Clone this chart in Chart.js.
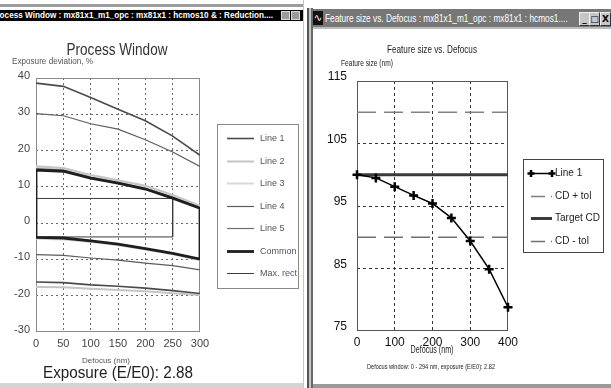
<!DOCTYPE html>
<html>
<head>
<meta charset="utf-8">
<script src="https://cdn.jsdelivr.net/npm/chart.js@4.4.1/dist/chart.umd.min.js"></script>
<style>
body { margin: 0; width: 611px; height: 388px; position: relative; overflow: hidden; background: #fff; font-family: 'Liberation Sans', Arial, sans-serif; }
#lwin { position: absolute; left: 0; top: 0; width: 303px; height: 388px; background: #fff; border-right: 1px solid #f0b4b4; overflow: hidden; }
#lstrip { position: absolute; left: 0; top: 4px; width: 303px; height: 3px; background: #9c9c9c; }
#lbar { position: absolute; left: 0; top: 10px; width: 303px; height: 11px; background: #000; color: #fff; font: bold 9px 'Liberation Sans', sans-serif; line-height: 11px; white-space: nowrap; overflow: hidden; }
#lbar span { position: absolute; left: -9px; top: 0; transform-origin: 0 50%; }
.lbtn { position: absolute; top: 1px; width: 7px; height: 7px; background: #9a9a9a; border: 1px solid #d8d8d8; }
#lbottom { position: absolute; left: 0; top: 383px; width: 303px; height: 5px; background: #d4d4d4; }
#pw { position: absolute; left: 0; top: 22px; }

#rb1 { position: absolute; left: 307px; top: 8px; width: 2px; height: 380px; background: #555; }
#rb2 { position: absolute; left: 309px; top: 8px; width: 2px; height: 380px; background: #c8c8c8; }
#rb3 { position: absolute; left: 311px; top: 8px; width: 2px; height: 380px; background: #6a6a6a; }
#rbar { position: absolute; left: 313px; top: 9px; width: 298px; height: 18px; background: #777; color: #fff; font: 11px 'Liberation Sans', sans-serif; line-height: 18px; white-space: nowrap; overflow: hidden; }
#ricon { position: absolute; left: 0; top: 2px; width: 10px; height: 14px; background: #111; color: #fff; font: 10px 'DejaVu Sans', sans-serif; line-height: 14px; text-align: center; }
#rtitle { position: absolute; left: 12px; top: 0; transform-origin: 0 50%; }
.rbtn { position: absolute; top: 3px; width: 9px; height: 12px; background: #c6c6c6; border: 1px solid #eee; border-right-color: #333; border-bottom-color: #333; color: #000; font: bold 9px 'DejaVu Sans', sans-serif; line-height: 12px; text-align: center; }
#rline { position: absolute; left: 313px; top: 27px; width: 298px; height: 2px; background: #bcbcbc; }
#rbottom { position: absolute; left: 313px; top: 384px; width: 298px; height: 4px; background: #9a9a9a; }
#fs { position: absolute; left: 314px; top: 31px; }
</style>
</head>
<body>
<div id="lwin">
  <div id="lstrip"></div>
  <div id="lbar"><span id="ltitle">Process Window : mx81x1_m1_opc : mx81x1 : hcmos10 &amp; : Reduction....</span>
    <div class="lbtn" style="left:281px"></div><div class="lbtn" style="left:291px"></div></div>
  <canvas id="pw" width="303" height="361"></canvas>
  <div id="lbottom"></div>
</div>
<div id="rb1"></div><div id="rb2"></div><div id="rb3"></div>
<div id="rbar"><div id="ricon">∿</div><div id="rtitle">Feature size vs. Defocus : mx81x1_m1_opc : mx81x1 : hcmos1....</div>
  <div class="rbtn" style="left:266px">_</div><div class="rbtn" style="left:276px">□</div><div class="rbtn" style="left:287px">X</div></div>
<div id="rline"></div>
<canvas id="fs" width="297" height="354"></canvas>
<div id="rbottom"></div>

<script>
// ---- Process Window data (exposure deviation %, vs defocus nm) ----
const pwDefocus = [0, 50, 100, 150, 200, 250, 300];
const line1Upper = [38.6, 37.7, 34.6, 31.4, 28.2, 24.0, 18.7];
const line1Lower = [-16.2, -16.4, -17.0, -17.4, -17.9, -18.6, -19.4];
const line2Upper = [15.7, 15.2, 13.3, 11.8, 10.3, 7.8, 4.8];
const line2Lower = [-17.6, -17.7, -18.1, -18.4, -18.8, -19.3, -19.8];
const line3Upper = [15.3, 14.8, 12.9, 11.5, 9.9, 7.4, 4.5];
const line3Lower = [-4.3, -4.5, -5.2, -6.1, -7.3, -8.6, -10.2];
const line4Upper = [30.2, 29.6, 27.4, 25.9, 23.0, 19.6, 15.6];
const line4Lower = [-8.7, -8.9, -9.6, -10.2, -11.0, -11.7, -12.9];
const line5Upper = [15.0, 14.6, 12.6, 11.2, 9.6, 7.1, 4.3];
const line5Lower = [-3.9, -4.1, -4.9, -5.8, -7.0, -8.3, -9.9];
const commonUpper = [14.6, 14.3, 12.4, 11.0, 9.4, 6.9, 4.1];
const commonLower = [-3.9, -4.1, -4.9, -5.8, -7.0, -8.3, -9.9];
const maxRectDefocus = [0, 250];
const maxRectExposure = [-3.8, 6.8];

// ---- Feature size vs defocus data ----
const fsDefocus = [0, 50, 100, 150, 200, 250, 300, 350, 400];
const fsLine1 = [100.0, 99.5, 98.1, 96.7, 95.4, 93.1, 89.4, 84.9, 78.8];
const fsRange = [0, 400];
const targetCD = 100;
const cdTol = 10;

const NARROW = "'Liberation Sans Narrow', 'Liberation Sans', sans-serif";
const SANS = "'Liberation Sans', Arial, sans-serif";

// squeeze the window captions to the width they have in the screenshot
function fitWidth(el, w) {
    el.style.transform = 'scaleX(' + (w / el.offsetWidth) + ')';
}
fitWidth(document.getElementById('ltitle'), 282);
fitWidth(document.getElementById('rtitle'), 243);

function pts(xs, ys) {
    return xs.map((x, i) => ({ x: x, y: ys[i] }));
}

// upper and lower curve of one line, with a gap between them
function band(upper, lower) {
    return pts(pwDefocus, upper).concat([{ x: 300, y: null }], pts(pwDefocus, lower));
}

function commonOutline() {
    const top = pts(pwDefocus, commonUpper);
    const bottom = pts(pwDefocus, commonLower).reverse();
    return top.concat(bottom, [top[0]]);
}

function rectOutline() {
    const [x0, x1] = maxRectDefocus;
    const [y0, y1] = maxRectExposure;
    return [{ x: x0, y: y1 }, { x: x1, y: y1 }, { x: x1, y: y0 }, { x: x0, y: y0 }, { x: x0, y: y1 }];
}

// frame around the plot area
const plotFrame = {
    id: 'plotFrame',
    beforeDatasetsDraw(chart) {
        const { left, top, right, bottom } = chart.chartArea;
        const ctx = chart.ctx;
        ctx.save();
        ctx.strokeStyle = chart.config.options.frameColor || '#777';
        ctx.lineWidth = 1;
        ctx.strokeRect(left + 0.5, top + 0.5, right - left - 1, bottom - top - 1);
        ctx.restore();
    }
};

// free text; w = width the text has in the reference, squeezed to fit
function textPlugin(items) {
    return {
        id: 'texts',
        afterDraw(chart) {
            const ctx = chart.ctx;
            items.forEach(t => {
                ctx.save();
                ctx.font = t.font;
                ctx.fillStyle = t.color || '#333';
                ctx.textBaseline = 'alphabetic';
                ctx.textAlign = 'left';
                const mw = ctx.measureText(t.text).width;
                const sx = t.w ? t.w / mw : 1;
                let x0 = t.x;
                if (t.align === 'center') x0 = t.x - mw * sx / 2;
                ctx.translate(x0, t.y);
                ctx.scale(sx, 1);
                ctx.fillText(t.text, 0, 0);
                ctx.restore();
            });
        }
    };
}

function legendPlugin(o) {
    return {
        id: 'boxLegend',
        afterDraw(chart) {
            const ctx = chart.ctx;
            ctx.save();
            ctx.strokeStyle = o.frame;
            ctx.lineWidth = 1;
            ctx.strokeRect(o.left + 0.5, o.top + 0.5, o.width, o.height);
            chart.data.datasets.forEach((ds, i) => {
                const y = Math.round(o.firstRow + i * o.rowStep) + 0.5;
                ctx.beginPath();
                ctx.strokeStyle = ds.borderColor;
                ctx.lineWidth = ds.borderWidth;
                ctx.setLineDash(ds.legendDash || []);
                ctx.moveTo(o.lineX, y);
                ctx.lineTo(o.lineX + o.lineW, y);
                ctx.stroke();
                ctx.setLineDash([]);
                if (ds.pointStyle === 'cross') {
                    ctx.lineWidth = ds.pointBorderWidth;
                    [o.lineX, o.lineX + o.lineW].forEach(px => {
                        ctx.beginPath();
                        ctx.moveTo(px - 3.5, y); ctx.lineTo(px + 3.5, y);
                        ctx.moveTo(px, y - 3.5); ctx.lineTo(px, y + 3.5);
                        ctx.stroke();
                    });
                }
                ctx.fillStyle = o.color;
                ctx.font = o.font;
                ctx.textBaseline = 'middle';
                ctx.fillText(ds.label, o.textX, y);
            });
            ctx.restore();
        }
    };
}

function innerGrid(color) {
    return (c) => {
        const n = c.scale.ticks.length;
        return (c.index === 0 || c.index === n - 1) ? 'rgba(0,0,0,0)' : color;
    };
}

// ---------------- Process Window ----------------
new Chart(document.getElementById('pw'), {
    type: 'line',
    data: {
        datasets: [
            { label: 'Line 1', data: band(line1Upper, line1Lower), borderColor: '#4a4a4a', borderWidth: 1.6, order: 3 },
            { label: 'Line 2', data: band(line2Upper, line2Lower), borderColor: '#c4c4c4', borderWidth: 2, order: 6 },
            { label: 'Line 3', data: band(line3Upper, line3Lower), borderColor: '#d8d8d8', borderWidth: 2, order: 7 },
            { label: 'Line 4', data: band(line4Upper, line4Lower), borderColor: '#5c5c5c', borderWidth: 1.2, order: 4 },
            { label: 'Line 5', data: band(line5Upper, line5Lower), borderColor: '#6e6e6e', borderWidth: 1.2, order: 5 },
            { label: 'Common', data: commonOutline(), borderColor: '#1e1e1e', borderWidth: 2.8, order: 1 },
            { label: 'Max. rect', data: rectOutline(), borderColor: '#3c3c3c', borderWidth: 1, order: 2 }
        ]
    },
    options: {
        responsive: false,
        animation: false,
        frameColor: '#8a8a8a',
        elements: { point: { radius: 0 }, line: { tension: 0 } },
        layout: { padding: { left: 0, right: 103, top: 56, bottom: 0 } },
        plugins: { legend: { display: false }, tooltip: { enabled: false } },
        scales: {
            x: {
                type: 'linear', min: 0, max: 300,
                afterFit: (s) => { s.height = 51; },
                ticks: { stepSize: 50, padding: 5, color: '#444', font: { family: NARROW, size: 11 } },
                grid: { color: innerGrid('#6a6a6a'), drawTicks: false },
                border: { display: false, dash: [2, 3] }
            },
            y: {
                min: -30, max: 40,
                afterFit: (s) => { s.width = 36; },
                ticks: { stepSize: 10, padding: 6, labelOffset: -2, color: '#444', font: { family: NARROW, size: 11 } },
                grid: { color: innerGrid('#6a6a6a'), drawTicks: false },
                border: { display: false, dash: [2, 3] }
            }
        }
    },
    plugins: [
        plotFrame,
        textPlugin([
            { text: 'Process Window', x: 117, y: 33, w: 101, font: '16px ' + SANS, color: '#333', align: 'center' },
            { text: 'Exposure deviation, %', x: 12, y: 42, w: 81, font: '9px ' + SANS, color: '#555' },
            { text: 'Defocus (nm)', x: 106, y: 341, w: 48, font: '8px ' + SANS, color: '#555', align: 'center' },
            { text: 'Exposure (E/E0): 2.88', x: 118, y: 356, w: 150, font: '16px ' + SANS, color: '#222', align: 'center' }
        ]),
        legendPlugin({ left: 217, top: 102, width: 81, height: 164, firstRow: 116, rowStep: 22.5,
            lineX: 227, lineW: 27, textX: 260, frame: '#8a8a8a', color: '#555', font: '9px ' + SANS })
    ]
});

// ---------------- Feature size vs. Defocus ----------------
new Chart(document.getElementById('fs'), {
    type: 'line',
    data: {
        datasets: [
            { label: 'Line 1', data: pts(fsDefocus, fsLine1), borderColor: '#000', borderWidth: 1.5, clip: 8,
              pointStyle: 'cross', pointRadius: 4.5, pointBorderWidth: 2.5, pointBorderColor: '#000', order: 1 },
            { label: 'CD + tol', data: pts(fsRange, [targetCD + cdTol, targetCD + cdTol]), borderColor: '#808080',
              borderWidth: 1.3, borderDash: [19, 8], legendDash: [14, 6], order: 3 },
            { label: 'Target CD', data: pts(fsRange, [targetCD, targetCD]), borderColor: '#3a3a3a', borderWidth: 3, order: 2 },
            { label: 'CD - tol', data: pts(fsRange, [targetCD - cdTol, targetCD - cdTol]), borderColor: '#707070',
              borderWidth: 1.3, borderDash: [19, 8], legendDash: [14, 6], order: 4 }
        ]
    },
    options: {
        responsive: false,
        animation: false,
        frameColor: '#555',
        elements: { point: { radius: 0 }, line: { tension: 0 } },
        layout: { padding: { left: 0, right: 103, top: 50, bottom: 0 } },
        plugins: { legend: { display: false }, tooltip: { enabled: false } },
        scales: {
            x: {
                type: 'linear', min: 0, max: 400,
                afterFit: (s) => { s.height = 54; },
                ticks: { stepSize: 100, padding: 4, color: '#111', font: { family: NARROW, size: 12 } },
                grid: { color: innerGrid('#333'), drawTicks: false },
                border: { display: false, dash: [3, 3] }
            },
            y: {
                min: 75, max: 115,
                afterFit: (s) => { s.width = 43; },
                ticks: { stepSize: 10, padding: 10, labelOffset: -4, color: '#111', font: { family: NARROW, size: 12 } },
                grid: { color: innerGrid('#333'), drawTicks: false },
                border: { display: false, dash: [3, 3] }
            }
        }
    },
    plugins: [
        plotFrame,
        textPlugin([
            { text: 'Feature size vs. Defocus', x: 118, y: 22, w: 90, font: '11px ' + SANS, color: '#222', align: 'center' },
            { text: 'Feature size (nm)', x: 27, y: 34.5, w: 52, font: '9px ' + SANS, color: '#222' },
            { text: 'Defocus (nm)', x: 118, y: 322, w: 43, font: '10px ' + SANS, color: '#222', align: 'center' },
            { text: 'Defocus window: 0 - 294 nm, exposure (E/E0): 2.82', x: 117, y: 338, w: 128, font: '7px ' + SANS, color: '#222', align: 'center' }
        ]),
        legendPlugin({ left: 209, top: 128, width: 80, height: 93, firstRow: 142, rowStep: 22.5,
            lineX: 217, lineW: 21, textX: 241, frame: '#444', color: '#222', font: '10px ' + NARROW })
    ]
});
</script>
</body>
</html>
